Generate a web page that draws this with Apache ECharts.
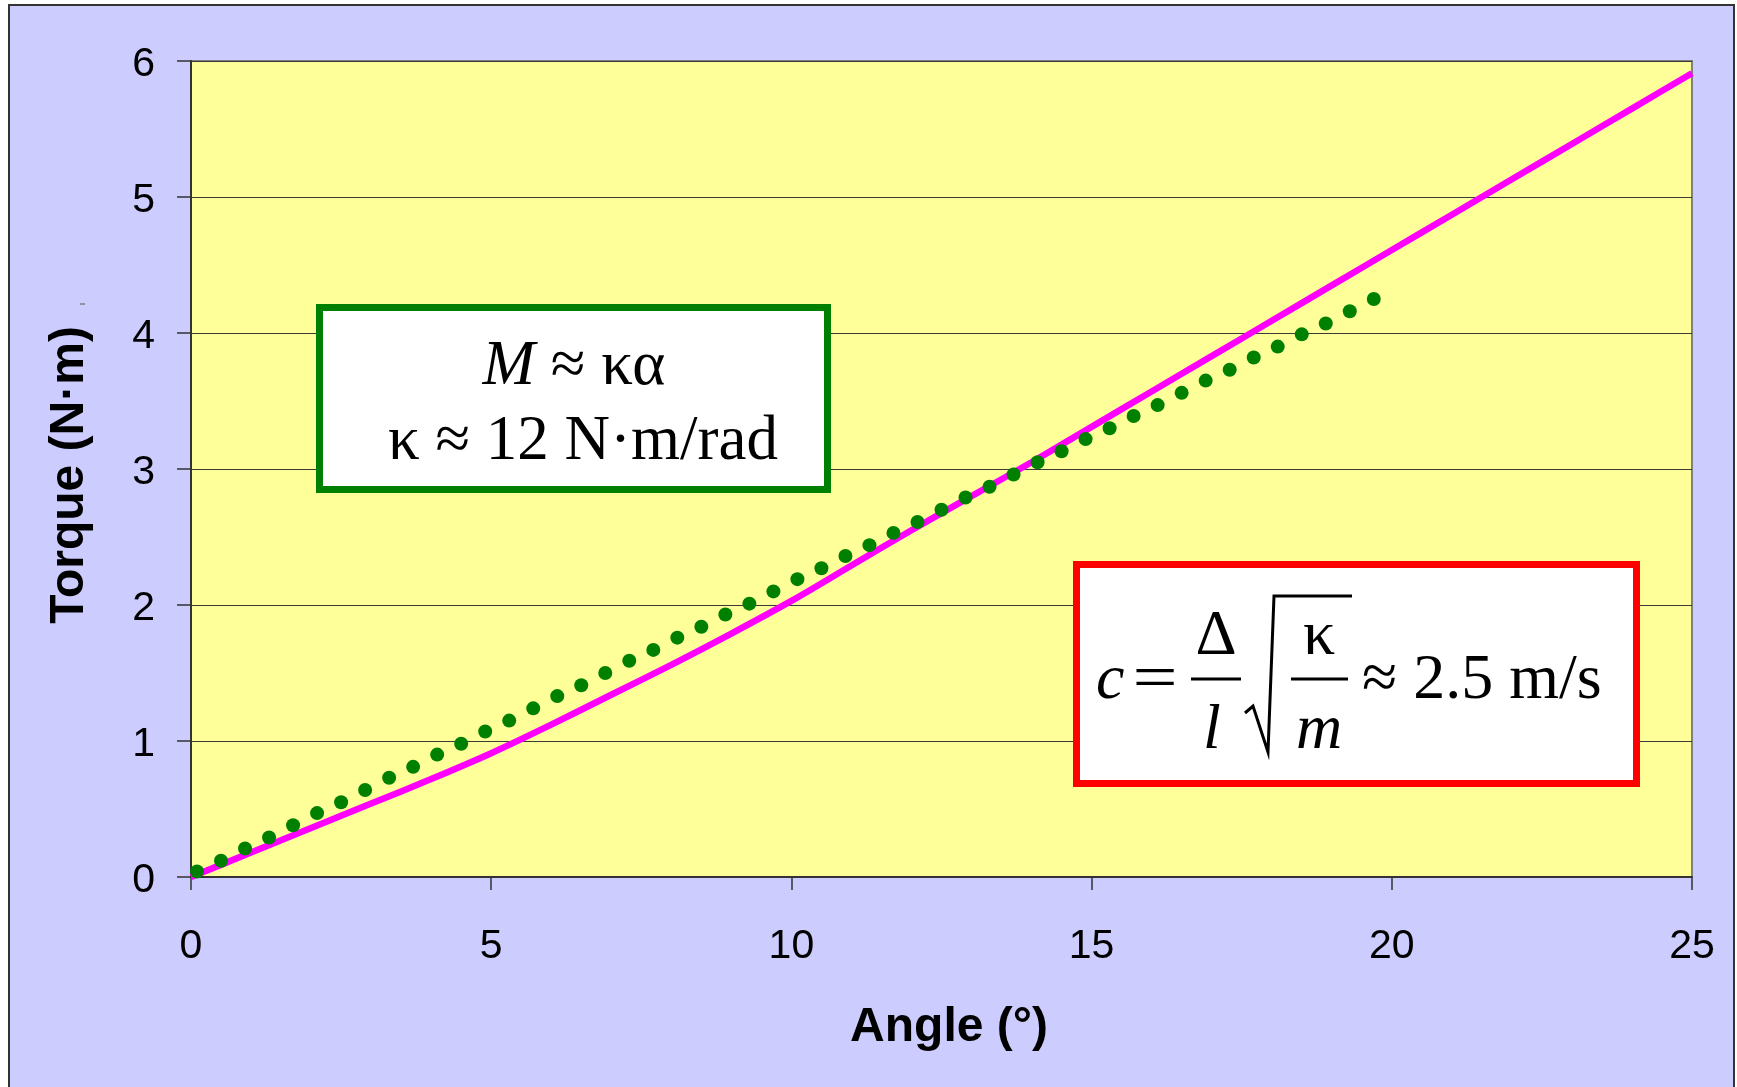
<!DOCTYPE html>
<html><head><meta charset="utf-8">
<script src="https://cdn.jsdelivr.net/npm/echarts@6/dist/echarts.min.js"></script>
<style>html,body{margin:0;padding:0;background:#fff;} #c{width:1737px;height:1087px;}</style>
</head><body><div id="c"></div>
<script>
// ---- data ----
const xTickLabels = ['0','5','10','15','20','25'];
const yTickLabels = ['0','1','2','3','4','5','6'];
const modelAngle = [0,1,2,3,4,5,6,7,8,9,10,11,12,13,14,15,16,17,18,19,20,21,22,23,24,25];
const modelTorque = [0.00,0.18,0.36,0.54,0.72,0.91,1.12,1.34,1.56,1.79,2.03,2.29,2.55,2.80,3.05,3.31,3.57,3.83,4.09,4.35,4.61,4.87,5.13,5.39,5.65,5.91];
const measAngle = [0.1,0.5,0.9,1.3,1.7,2.1,2.5,2.9,3.3,3.7,4.1,4.5,4.9,5.3,5.7,6.1,6.5,6.9,7.3,7.7,8.1,8.5,8.9,9.3,9.7,10.1,10.5,10.9,11.3,11.7,12.1,12.5,12.9,13.3,13.7,14.1,14.5,14.9,15.3,15.7,16.1,16.5,16.9,17.3,17.7,18.1,18.5,18.9,19.3,19.7];
const measTorque = [0.04,0.12,0.21,0.29,0.38,0.47,0.55,0.64,0.73,0.81,0.90,0.98,1.07,1.15,1.24,1.33,1.41,1.50,1.59,1.67,1.76,1.84,1.93,2.01,2.10,2.19,2.27,2.36,2.44,2.53,2.61,2.70,2.79,2.87,2.96,3.05,3.13,3.22,3.30,3.39,3.47,3.56,3.65,3.73,3.82,3.90,3.99,4.07,4.16,4.25];
const xTitle = 'Angle (°)';
const yTitle = 'Torque (N·m)';

const SANS = '"Liberation Sans", Arial, sans-serif';
const SERIF = '"Liberation Serif", "Times New Roman", serif';

const chart = echarts.init(document.getElementById('c'), null, {renderer:'canvas'});

function txt(x, y, text, opts, extra) {
  return Object.assign({type:'text', x:x, y:y, z:20, style: Object.assign({
    text:text, fontFamily:SERIF, fontSize:64, fill:'#000', align:'center', verticalAlign:'middle'
  }, opts||{})}, extra||{});
}

const option = {
  backgroundColor:'#CCCCFF',
  animation:false,
  grid:{left:191, top:61, width:1501, height:816, show:true, backgroundColor:'#FFFF99', borderColor:'#808080', borderWidth:2},
  xAxis:{
    type:'value', min:Number(xTickLabels[0]), max:Number(xTickLabels[xTickLabels.length-1]), interval:5,
    name:xTitle, nameLocation:'middle', nameGap:127,
    nameTextStyle:{fontFamily:SANS, fontSize:48, fontWeight:'bold', color:'#000', padding:[0,0,0,15]},
    axisLine:{show:true, onZero:false, lineStyle:{color:'#333', width:2}},
    axisTick:{show:true, inside:false, length:13, lineStyle:{color:'#333', width:1.5}},
    axisLabel:{margin:49, fontFamily:SANS, fontSize:41, color:'#000'},
    splitLine:{show:false}
  },
  yAxis:{
    type:'value', min:Number(yTickLabels[0]), max:Number(yTickLabels[yTickLabels.length-1]), interval:1,
    name:yTitle, nameLocation:'middle', nameGap:97,
    nameTextStyle:{fontFamily:SANS, fontSize:48, fontWeight:'bold', color:'#000', padding:[0,12,0,0]},
    axisLine:{show:true, onZero:false, lineStyle:{color:'#333', width:2}},
    axisTick:{show:true, inside:false, length:14, lineStyle:{color:'#333', width:1.5}},
    axisLabel:{margin:36, color:'#000', formatter:function(v){return '{t|' + v + '}';},
      rich:{t:{fontFamily:SANS, fontSize:41, color:'#000', padding:[7,0,0,0]}}},
    splitLine:{show:true, lineStyle:{color:'#3a3a3a', width:1.2}}
  },
  series:[
    {type:'line', data:modelAngle.map((x,i)=>[x, modelTorque[i]]), showSymbol:false, smooth:0.3,
     lineStyle:{color:'#FF00FF', width:6.5}, z:3, clip:false},
    {type:'scatter', data:measAngle.map((x,i)=>[x, measTorque[i]]), symbol:'circle', symbolSize:14,
     itemStyle:{color:'#008000', opacity:1}, z:4}
  ],
  graphic:[
    // white page margins and outer frame
    {type:'rect', z:0, shape:{x:0,y:0,width:8,height:1087}, style:{fill:'#fff'}},
    {type:'rect', z:0, shape:{x:0,y:0,width:1737,height:4}, style:{fill:'#fff'}},
    {type:'rect', z:0, shape:{x:1735,y:0,width:2,height:1087}, style:{fill:'#fff'}},
    {type:'rect', z:0, shape:{x:9,y:5,width:1725,height:1100}, style:{fill:null, stroke:'#333', lineWidth:2}},
    {type:'line', z:0, shape:{x1:80,y1:304,x2:85,y2:304}, style:{stroke:'#555', lineWidth:1}},
    // green box
    {type:'rect', z:10, shape:{x:319.5,y:307.5,width:508,height:182}, style:{fill:'#fff', stroke:'#008000', lineWidth:7}},
    txt(574, 367, '{i|M} ≈ κα', {fontSize:63, rich:{i:{fontStyle:'italic', fontFamily:SERIF, fontSize:63}}}),
    txt(583, 442, 'κ ≈ 12 N·m/rad', {fontSize:63}),
    // red box
    {type:'rect', z:10, shape:{x:1076.5,y:564.5,width:560,height:219}, style:{fill:'#fff', stroke:'#FF0000', lineWidth:7}},
    txt(1096, 681, 'c', {align:'left', fontStyle:'italic'}),
    txt(1155, 681, '=', {}, {scaleX:1.25}),
    {type:'line', z:20, shape:{x1:1191,y1:679,x2:1241,y2:679}, style:{stroke:'#000', lineWidth:3}},
    txt(1216, 637, 'Δ'),
    txt(1212, 731, 'l', {fontStyle:'italic'}),
    {type:'polyline', z:20, shape:{points:[[1245,713],[1253,706],[1268,752],[1274,596],[1352,596]]}, style:{stroke:'#000', lineWidth:3, fill:null}},
    {type:'line', z:20, shape:{x1:1291,y1:679,x2:1348,y2:679}, style:{stroke:'#000', lineWidth:3}},
    txt(1319, 637, 'κ'),
    txt(1319, 731, 'm', {fontStyle:'italic'}),
    txt(1362, 681, '≈ 2.5 m/s', {align:'left'})
  ]
};
chart.setOption(option);
</script></body></html>
